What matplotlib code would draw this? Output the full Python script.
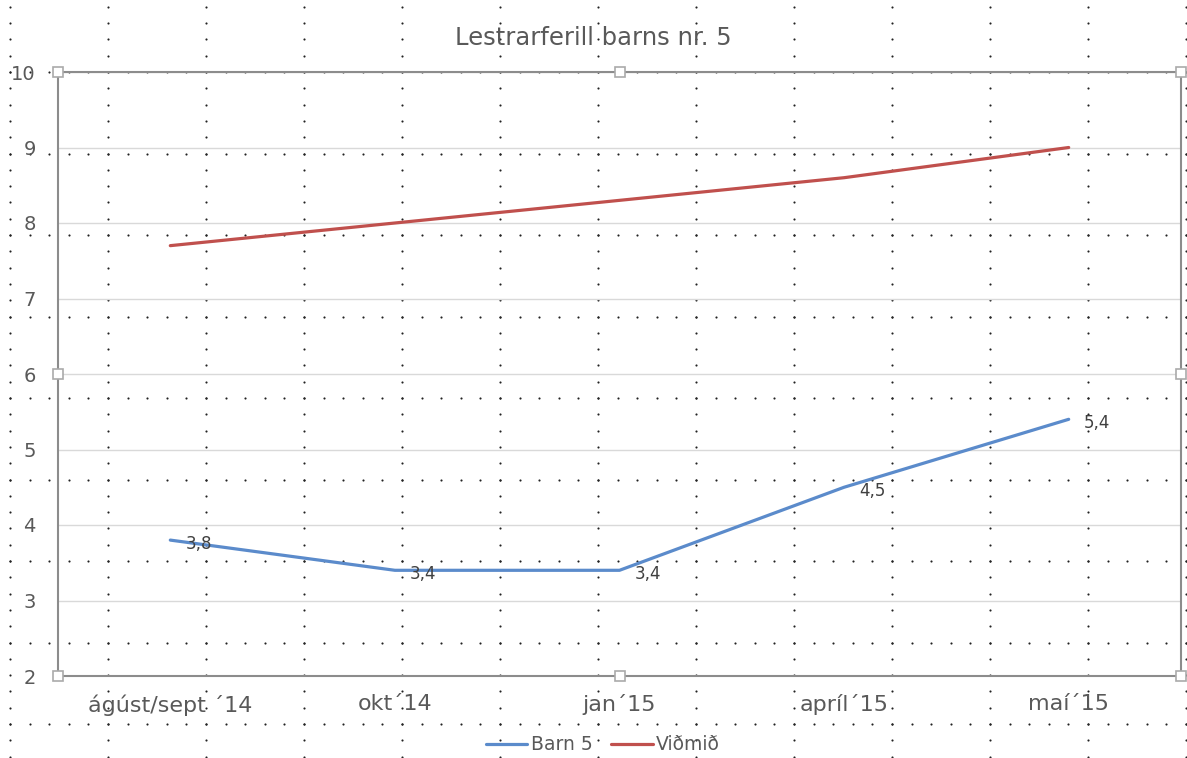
import numpy as np
import matplotlib
matplotlib.use("Agg")
import matplotlib.pyplot as plt

# data
categories = ["ágúst/sept ´14", "okt´14", "jan´15", "apríl´15", "maí´15"]
barn5 = [3.8, 3.4, 3.4, 4.5, 5.4]
vidmid = [7.7, 8.0, 8.3, 8.6, 9.0]
barn5_labels = ["3,8", "3,4", "3,4", "4,5", "5,4"]

W, H = 1187, 758
fig = plt.figure(figsize=(W / 100, H / 100), dpi=100)

# background dot grid (drawing grid of the screenshot)
bg = fig.add_axes([0, 0, 1, 1], zorder=0)
bg.set_xlim(0, W)
bg.set_ylim(H, 0)
bg.axis("off")
col_x = 10 + 98 * np.arange(13)
col_y = 72 + 16.3 * np.arange(-4, 43)
row_y = 72 + 81.5 * np.arange(9)
row_x = 10 + 19.6 * np.arange(61)
cx, cy = np.meshgrid(col_x, col_y)
rx, ry = np.meshgrid(row_x, row_y)
bg.scatter(cx.ravel(), cy.ravel(), s=2.4, c="#222222", linewidths=0)
bg.scatter(rx.ravel(), ry.ravel(), s=2.4, c="#222222", linewidths=0)

ax = fig.add_axes([58 / W, 1 - 676 / H, (1181 - 58) / W, (676 - 72) / H], zorder=1)
ax.patch.set_alpha(0)
x = np.arange(len(categories))
ax.plot(x, barn5, color="#5B8BCB", lw=2.3, label="Barn 5", solid_capstyle="round")
ax.plot(x, vidmid, color="#C0504D", lw=2.3, label="Viðmið", solid_capstyle="round")

for xi, yi, t in zip(x, barn5, barn5_labels):
    ax.annotate(t, (xi, yi), xytext=(15, -4), textcoords="offset pixels",
                ha="left", va="center", fontsize=12, color="#404040")

ax.set_xlim(-0.5, len(categories) - 0.5)
ax.set_ylim(2, 10)
ax.set_yticks(range(2, 11))
ax.set_xticks(x)
ax.set_xticklabels(categories, fontsize=16)
ax.yaxis.grid(True, color="#d9d9d9", lw=1)
ax.set_axisbelow(True)
ax.tick_params(axis="both", length=0, colors="#595959")
ax.tick_params(axis="y", pad=16, labelsize=14)
ax.tick_params(axis="x", pad=13)
for s in ax.spines.values():
    s.set_color("#8c8c8c")
    s.set_linewidth(1.5)

# selection handles
hx = [0, 0.5, 1, 0, 1, 0, 0.5, 1]
hy = [1, 1, 1, 0.5, 0.5, 0, 0, 0]
ax.plot(hx, hy, ls="none", marker="s", ms=7, mfc="white", mec="#aaaaaa",
        mew=1.2, transform=ax.transAxes, clip_on=False, zorder=5)

fig.text(0.5, 1 - 38 / H, "Lestrarferill barns nr. 5", ha="center", va="center",
         fontsize=17.5, color="#595959")

fig.legend(loc="center", bbox_to_anchor=(603 / W, 1 - 745 / H), ncol=2, frameon=False,
           fontsize=13.5, labelcolor="#595959", handlelength=2.2, handletextpad=0.2,
           columnspacing=1.0)

fig.savefig("out.png", dpi=100)
